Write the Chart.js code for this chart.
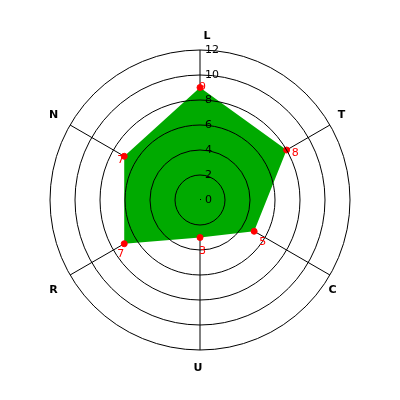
<!DOCTYPE html>
<html>
<head>
<meta charset="utf-8">
<script src="https://cdn.jsdelivr.net/npm/chart.js@4/dist/chart.umd.min.js"></script>
<style>
  body { margin: 0; background: #fff; }
  canvas { display: block; }
</style>
</head>
<body>
<canvas id="radar" width="400" height="400"></canvas>
<script>
// categories and values
const categories = ['L', 'T', 'C', 'U', 'R', 'N'];
const values = [9, 8, 5, 3, 7, 7];
const tickValues = [0, 2, 4, 6, 8, 10, 12];

Chart.defaults.font.family = 'DejaVu Sans';

// label nudges so the axis letters sit where the original put them
const nudges = [[7, 4], [-4, -1], [-13, 6], [-2, 0], [-1, 6], [-1, -1]];

const extrasPlugin = {
    id: 'extras',
    // angle lines go under the green fill
    beforeDatasetsDraw(chart) {
        const r = chart.scales.r;
        const ctx = chart.ctx;
        ctx.save();
        ctx.strokeStyle = '#000';
        ctx.lineWidth = 1;
        for (let i = 0; i < categories.length; i++) {
            const p = r.getPointPositionForValue(i, r.max);
            ctx.beginPath();
            ctx.moveTo(r.xCenter, r.yCenter);
            ctx.lineTo(p.x, p.y);
            ctx.stroke();
        }
        ctx.restore();
    },
    afterDraw(chart) {
        const r = chart.scales.r;
        const ctx = chart.ctx;
        ctx.save();

        // tick labels, to the right of the vertical axis
        ctx.fillStyle = '#000';
        ctx.font = '11px "DejaVu Sans"';
        ctx.textAlign = 'left';
        ctx.textBaseline = 'middle';
        r.ticks.forEach(t => {
            const d = r.getDistanceFromCenterForValue(t.value);
            ctx.fillText(String(t.value), r.xCenter + 5, r.yCenter - d);
        });
        ctx.fillRect(r.xCenter, r.yCenter - 1, 1, 1);

        // axis letters
        ctx.font = 'bold 11px "DejaVu Sans"';
        ctx.textAlign = 'center';
        categories.forEach((c, i) => {
            const p = r.getPointPosition(i, r.drawingArea + 18);
            ctx.fillText(c, p.x + nudges[i][0], p.y + nudges[i][1]);
        });

        // value labels next to each point
        ctx.fillStyle = '#ff0000';
        ctx.font = '11px "DejaVu Sans"';
        const meta = chart.getDatasetMeta(0);
        meta.data.forEach((pt, i) => {
            const dx = pt.x - r.xCenter;
            const dy = pt.y - r.yCenter;
            const len = Math.hypot(dx, dy) || 1;
            ctx.fillText(String(values[i]), pt.x + dx / len * 7 + 2.5, pt.y + dy / len * 7 + 7);
        });
        ctx.restore();
    }
};

new Chart(document.getElementById('radar'), {
    type: 'radar',
    data: {
        labels: categories,
        datasets: [{
            data: values,
            backgroundColor: '#00aa00',
            borderWidth: 0,
            fill: true,
            pointRadius: 3,
            pointBackgroundColor: '#ff0000',
            pointBorderColor: '#ff0000',
            pointBorderWidth: 1
        }]
    },
    options: {
        responsive: false,
        animation: false,
        layout: { padding: 50 },
        plugins: {
            legend: { display: false },
            tooltip: { enabled: false }
        },
        scales: {
            r: {
                min: tickValues[0],
                max: tickValues[tickValues.length - 1],
                ticks: { stepSize: 2, display: false },
                grid: { circular: true, color: '#000', lineWidth: 1, z: 1 },
                angleLines: { display: false },
                pointLabels: { display: false }
            }
        }
    },
    plugins: [extrasPlugin]
});
</script>
</body>
</html>
